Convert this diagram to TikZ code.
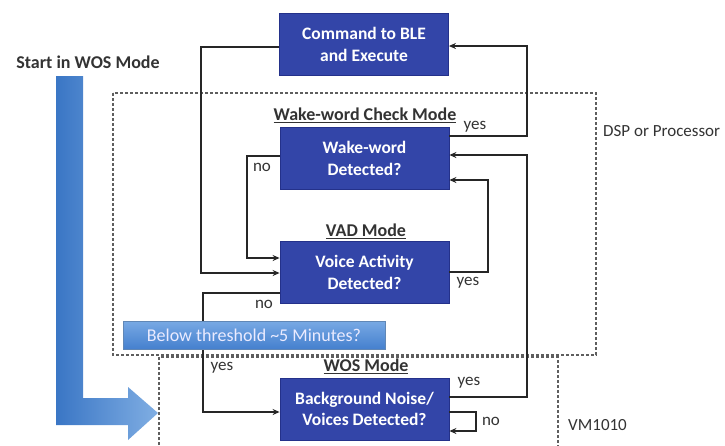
\documentclass[tikz,border=0pt]{standalone}
\usepackage{fontspec}
\setmainfont{Carlito}
\usetikzlibrary{arrows.meta}

\definecolor{boxblue}{HTML}{3345A8}
\definecolor{boxedge}{HTML}{24318A}
\definecolor{arrowdark}{HTML}{3A76C5}
\definecolor{arrowlight}{HTML}{80AEE3}
\definecolor{bantop}{HTML}{78A9E4}
\definecolor{banbot}{HTML}{4580CE}
\definecolor{txt}{HTML}{333333}
\definecolor{dashgray}{HTML}{5E5E5E}

\tikzset{
  statebox/.style={draw=boxedge, fill=boxblue, line width=0.8pt,
    minimum width=169pt, minimum height=62pt, align=center,
    text=white, font=\fontsize{17.5}{21.5}\selectfont\bfseries, inner sep=2pt},
  modetitle/.style={text=txt, font=\fontsize{18}{22}\selectfont\bfseries, inner sep=0pt},
  lbl/.style={text=txt, font=\fontsize{17}{21}\selectfont, inner sep=0pt},
  conn/.style={line width=1.4pt, draw=black!85, -{Stealth[length=7pt,width=6pt]}},
  region/.style={dashgray, line width=1.1pt, dash pattern=on 3pt off 2pt},
}

\begin{document}
\begin{tikzpicture}[x=1pt, y=-1pt]
\useasboundingbox (0,0) rectangle (725,445);

% processor and VM1010 regions
\draw[region] (113,93) rectangle (596,355);
\draw[region] (159,450) -- (159,357) -- (558,357) -- (558,450);

% start arrow
\shade[left color=arrowdark, right color=arrowlight]
  (56,76) -- (83,76) -- (83,398) -- (128,398) -- (128,387) -- (158,413)
  -- (128,440) -- (128,425) -- (56,425) -- cycle;
\node[modetitle] (start) at (88,62) {Start in WOS Mode};

% state boxes
\node[statebox] (cmd)  at (364,44.5) {Command to BLE\\and Execute};
\node[statebox] (wake) at (364.5,158.5) {Wake-word\\Detected?};
\node[statebox] (vad)  at (364.5,272.5) {Voice Activity\\Detected?};
\node[statebox] (wos)  at (364.5,409) {Background Noise/\\Voices Detected?};

% mode titles
\node[modetitle] (tw) at (365,115) {\underline{Wake-word Check Mode}};
\node[modetitle] (tv) at (366,231) {\underline{VAD Mode}};
\node[modetitle] (to) at (366,366) {\underline{WOS Mode}};

% connectors
\draw[conn] (wake.east |- 0,136) -| (527,46) -- (cmd.east |- 0,46);
\draw[conn] (cmd.west |- 0,47) -| (201,273) -- (vad.west |- 0,273);
\draw[conn] (wake.west |- 0,156) -| (247,258) -- (vad.west |- 0,258);
\draw[conn] (vad.east |- 0,272) -| (488,180) -- (wake.east |- 0,180);
\draw[conn] (vad.west |- 0,293) -| (203,412) -- (wos.west |- 0,412);
\draw[conn] (wos.east |- 0,397) -| (527,155) -- (wake.east |- 0,155);
\draw[conn] (wos.east |- 0,412) -| (476,431) -- (wos.east |- 0,431);

% threshold banner
\shade[top color=bantop, bottom color=banbot, draw=bantop!80!black, line width=0.5pt]
  (123,321) rectangle (385,349);
\node[text=white!92!blue, font=\fontsize{18}{22}\selectfont, inner sep=0pt]
  (thr) at (254,335) {Below threshold \textasciitilde5 Minutes?};

% branch labels
\node[lbl] (l1) at (475,127) {yes};
\node[lbl] (l2) at (262,167) {no};
\node[lbl] (l3) at (468,283) {yes};
\node[lbl] (l4) at (264,304) {no};
\node[lbl] (l5) at (222,368) {yes};
\node[lbl] (l6) at (469,383) {yes};
\node[lbl] (l7) at (491,421) {no};

% region names
\node[lbl, anchor=west] (dsp) at (603,131) {DSP or Processor};
\node[lbl, anchor=west] (vm) at (568,425) {VM1010};
\end{tikzpicture}
\end{document}
